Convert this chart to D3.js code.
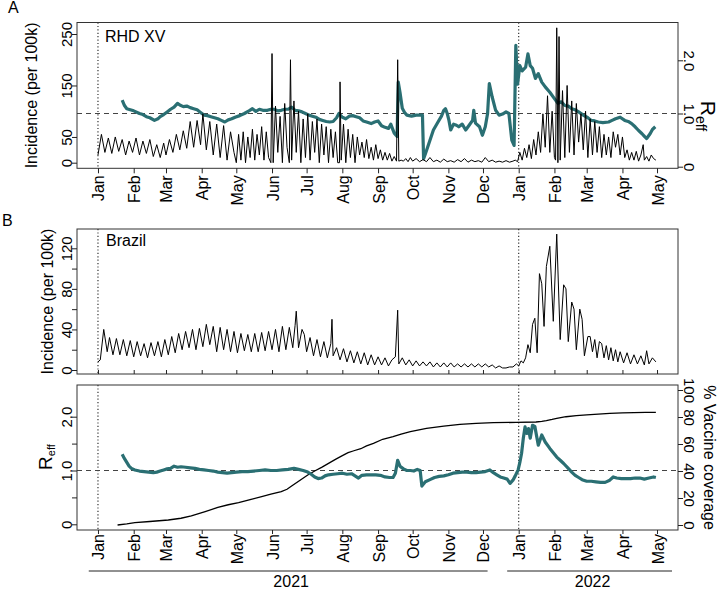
<!DOCTYPE html>
<html>
<head>
<meta charset="utf-8">
<script src="https://cdn.jsdelivr.net/npm/d3@7"></script>
<style>
  body { margin: 0; background: #fff; }
</style>
</head>
<body>
<div id="chart"></div>
<script>
// all series: [days since 2021-01-01, value]
var rhdIncidence = [
  [0,15],[3,55],[6,20],[9,48],[12,18],[15,50],[18,22],[21,45],[24,15],[27,42],[30,20],
  [33,48],[36,15],[39,42],[42,18],[45,45],[48,12],[51,35],[54,10],[57,38],
  [59,15],[62,45],[65,20],[68,55],[71,25],[74,62],[77,28],[80,80],[83,30],[86,82],[89,35],
  [91,95],[94,25],[97,80],[100,15],[103,75],[106,10],[109,72],[112,5],[115,60],[118,20],
  [120,0],[122,55],[124,5],[126,60],[128,0],[130,50],[132,10],[134,65],[136,5],[138,55],[140,15],[142,70],[144,5],[146,60],[148,10],[150,0],
  [151,212],[152,0],[154,110],[156,20],[158,90],[160,0],[162,115],[164,30],[166,0],[167,200],[168,5],[170,120],[172,20],[174,100],[176,0],[178,85],[180,10],
  [182,95],[184,5],[186,80],[188,20],[190,85],[192,0],[194,75],[196,15],[198,70],[200,0],[202,65],[204,10],[206,60],[208,0],
  [209.5,0],[210,157],[211,5],[213,75],[215,0],[217,65],[219,10],[221,55],[223,0],[225,50],[227,15],[229,40],[231,10],[233,45],[235,8],[237,30],[239,5],[241,35],[243,8],
  [245,25],[247,5],[249,20],[251,5],[253,18],[255,3],[257,12],[259,3],[260,200],[261,3],[263,5],[265,3],[267,8],[269,2],[271,10],[273,3],
  [276,8],[279,2],[282,6],[285,2],[288,10],[291,2],[294,5],[297,1],[300,7],[303,2],[306,4],[309,1],[312,6],[315,2],[318,8],[321,1],
  [324,5],[327,2],[330,4],[333,1],[336,10],[339,2],[342,5],[345,1],[348,3],[351,1],[354,4],[357,1],[360,3],[362,5],[364,2],
  [366,20],[368,5],[370,28],[372,10],[374,35],[376,8],[378,45],[380,15],[382,60],[384,20],[386,95],[388,30],[390,130],[392,20],[394,100],[396,10],
  [397,5],[398,262],[399,0],[400,245],[401,5],[403,140],[405,10],[407,150],[409,20],[411,120],[413,15],[415,115],[417,40],[419,95],[421,25],[423,100],
  [425,10],[427,85],[429,15],[431,80],[433,20],[435,70],[437,10],[439,55],[441,15],[443,50],[445,10],[447,60],[449,30],[451,55],[453,15],
  [455,50],[457,10],[459,25],[461,5],[463,20],[465,5],[467,22],[469,3],[471,15],[473,35],[474,5],[476,12],[478,3],[480,15],[482,8],[484,5]
];

var rhdReff = [
  [21,1.25],[23,1.15],[25,1.09],[28,1.07],[31,1.05],[36,1.0],[39,0.98],[42,0.94],[45,0.92],[49,0.87],[52,0.9],[54,0.94],
  [57,0.98],[60,1.03],[63,1.08],[66,1.12],[69,1.19],[71,1.16],[74,1.13],[77,1.14],[80,1.11],[83,1.09],[86,1.07],[89,1.02],
  [92,0.97],[95,0.96],[98,0.94],[101,0.92],[104,0.9],[107,0.87],[110,0.84],[113,0.88],[116,0.9],[119,0.93],[123,0.96],
  [127,1.0],[131,1.05],[134,1.09],[137,1.04],[140,1.08],[143,1.06],[147,1.06],[150,1.08],[153,1.08],[156,1.05],[159,1.06],
  [162,1.08],[165,1.08],[168,1.12],[171,1.06],[174,1.05],[177,1.03],[180,1.0],[183,0.97],[186,0.95],[189,0.93],[192,0.89],
  [195,0.87],[198,0.85],[201,0.84],[204,0.85],[207,0.92],[209,1.0],[212,0.93],[215,0.9],[218,0.95],[221,0.96],[224,0.94],
  [227,0.92],[230,0.86],[233,0.84],[237,0.81],[240,0.84],[243,0.86],[246,0.77],[249,0.74],[252,0.72],[254,0.8],[257,0.63],
  [259.5,0.57],[260.5,1.59],[262,1.4],[264,1.1],[266,1.02],[268,0.97],[272,0.95],[276,0.97],[281.5,0.97],[282.5,0.15],
  [284,0.24],[287,0.43],[291,0.69],[295,0.84],[298,0.95],[300,1.06],[301.5,1.09],[303,1.0],[304.5,0.87],[306,0.69],
  [308.5,0.8],[311,0.78],[313,0.75],[316,0.8],[319,0.69],[322,0.78],[325,0.87],[326,1.06],[327.5,0.82],[331,0.75],
  [333.5,0.59],[336,0.75],[338,1.0],[339.5,1.56],[342,1.31],[345,1.06],[348,0.97],[351,0.99],[354,1.03],[356.5,1.0],
  [359,0.5],[361,0.4],[362.5,2.28],[364,1.55],[366,1.9],[368,1.8],[371,1.87],[373,2.12],[375,1.9],[377,1.85],[379.5,1.66],
  [382,1.75],[385,1.59],[388,1.5],[392,1.4],[396,1.28],[399,1.19],[402,1.22],[405,1.15],[408,1.14],[411,1.09],[414,1.07],
  [417,1.03],[421,0.97],[425,0.92],[428,0.87],[431,0.86],[434,0.84],[438,0.83],[443,0.84],[446,0.87],[449,0.9],[453,0.93],
  [457,0.87],[460,0.85],[463,0.81],[466,0.75],[469,0.68],[472,0.62],[474.5,0.56],[476,0.53],[479,0.62],[481,0.7],[483.5,0.75]
];

var brazilIncidence = [
  [0,8],[2,10],[5,40],[8,18],[10,32],[13,15],[16,31],[19,15],[22,30],[25,14],[28,29],
  [31,13],[34,28],[37,14],[40,26],[43,12],[46,27],[49,14],[52,28],[55,13],[58,30],
  [61,15],[64,33],[67,17],[70,36],[73,20],[76,38],[79,22],[82,40],[85,20],[88,41],
  [91,23],[94,45],[97,25],[100,43],[103,18],[106,42],[109,20],[112,40],[115,18],[118,38],
  [121,17],[124,36],[127,19],[130,35],[133,18],[136,36],[139,18],[142,37],[145,19],[148,38],
  [151,20],[154,40],[157,18],[160,43],[163,20],[166,42],[169,22],[171,44],[172,58],[174,22],[177,40],[179,35],
  [181,18],[184,32],[187,14],[190,30],[193,13],[196,28],[199,12],[202,26],[203,50],[204,14],[207,22],[210,10],
  [213,21],[216,8],[219,19],[222,7],[225,18],[228,6],[231,17],[234,5],[237,15],[240,5],
  [243,13],[246,5],[249,12],[252,4],[255,10],[258,13],[260,59],[261,6],[264,12],[267,5],[270,10],[273,4],
  [276,9],[279,4],[282,8],[285,4],[288,8],[291,3],[294,7],[297,3],[300,7],[303,3],
  [306,7],[309,3],[312,6],[315,3],[318,6],[321,3],[324,6],[327,3],[330,6],[333,3],
  [336,6],[339,3],[342,5],[345,2],[348,4],[351,2],[354,2],[357,3],[360,3],[363,6],
  [365,4],[367,9],[369,7],[371,12],[373,25],[375,17],[377,45],[379,51],[381,17],[383,95],[385,85],[387,43],
  [389,102],[392,122],[395,48],[398,134],[401,30],[404,84],[406,80],[408,28],[411,67],[413,60],[415,20],[418,60],
  [420,50],[422,14],[425,33],[427,33],[429,18],[431,30],[433,12],[435,28],[437,26],[439,12],[441,24],[443,10],
  [445,22],[447,9],[449,20],[451,8],[453,18],[456,7],[459,17],[462,6],[465,15],[468,6],[471,14],[474,5],
  [476,19],[478,6],[481,12],[484,8]
];

var brazilReff = [
  [21,1.3],[23,1.22],[25,1.15],[27,1.08],[29,1.04],[32,1.01],[36,0.99],[40,0.98],[44,0.97],[48,0.96],[51,0.97],
  [54,0.99],[57,1.01],[60,1.03],[63,1.04],[66,1.08],[69,1.06],[72,1.07],[76,1.06],[80,1.05],[84,1.04],[88,1.02],
  [92,1.01],[96,1.0],[100,0.99],[104,0.97],[108,0.96],[112,0.95],[116,0.96],[120,0.97],[125,0.98],[130,0.98],
  [135,0.99],[140,1.0],[145,1.01],[150,1.0],[155,1.0],[160,1.01],[165,1.02],[170,1.04],[174,1.02],[178,1.0],
  [182,0.97],[185,0.93],[188,0.88],[191,0.85],[194,0.86],[197,0.9],[200,0.92],[204,0.93],[208,0.94],[212,0.95],
  [216,0.93],[220,0.94],[223,0.9],[226,0.86],[229,0.91],[233,0.92],[237,0.92],[241,0.92],[245,0.91],[249,0.88],
  [253,0.87],[256,0.87],[258,0.95],[260,1.19],[262,1.08],[265,1.03],[268,1.0],[271,1.0],[274,0.99],[277,1.02],
  [279.5,1.0],[281,0.71],[284,0.79],[288,0.83],[292,0.87],[296,0.89],[300,0.9],[304,0.92],[308,0.95],[312,0.96],
  [316,0.97],[320,0.97],[324,0.96],[328,0.96],[332,0.97],[336,0.98],[340,1.01],[343,0.96],[346,0.92],[349,0.88],
  [352,0.86],[355,0.84],[357.5,0.76],[360,0.82],[362,0.9],[364.5,1.01],[366,1.15],[367.5,1.32],[369,1.6],[370.5,1.81],
  [372,1.69],[373.5,1.78],[375,1.6],[377,1.84],[379,1.82],[382,1.47],[385,1.66],[388,1.53],[392,1.41],[395,1.33],
  [398,1.25],[401,1.19],[404,1.13],[408,1.04],[411,0.97],[414,0.91],[417,0.87],[420,0.83],[424,0.8],[428,0.8],
  [432,0.79],[436,0.78],[440,0.78],[444,0.82],[447,0.88],[450,0.86],[454,0.85],[458,0.85],[462,0.85],[466,0.86],
  [470,0.86],[474,0.84],[478,0.86],[482,0.88],[484,0.87]
];

// % vaccine coverage, Brazil
var vaccineCoverage = [
  [17,0],[25,0.8],[32,1.7],[45,2.6],[61,3.7],[72,5],[81,6.7],[93,9.9],[104,13],[113,15],[122,16.5],[132,18.8],
  [142,21],[150,22.8],[159,24.7],[164,26.5],[168,28.9],[175,33],[182,37],[188,40],[194,42.7],[200,45.6],[206,48.6],
  [212,51.4],[217,53.6],[222,55],[228,56.5],[233,58.6],[239,60.5],[247,63.5],[256,65.4],[263,67.3],[271,69.1],
  [285,71.6],[300,73.3],[314,74.6],[328,75.3],[343,75.8],[363,76],[380,76.3],[385,76.8],[389,77.3],[394,78.2],
  [398,79],[406,80.2],[415,81],[424,81.5],[434,82.2],[444,82.7],[455,83],[465,83.2],[475,83.4],[484,83.5]
];

var incATicks = [0, 50, 150, 250];
var reffATicks = [0, 1, 2];
var incBTicks = [0, 20, 40, 60, 80, 100, 120];
var incBLabels = [0, 40, 80, 120];
var reffBTicks = [0, 0.5, 1, 1.5, 2];
var reffBLabels = [0, 1, 2];
var vacTicks = [0, 20, 40, 60, 80, 100];
var years = ["2021", "2022"];

var FONT = "'Liberation Sans', Arial, Helvetica, sans-serif";
var TEAL = "#2a6f73";

var svg = d3.select("#chart").append("svg")
    .attr("width", 720).attr("height", 589)
    .style("font-family", FONT);

var day0 = Date.UTC(2021, 0, 1);
function toDate(d) { return new Date(day0 + d * 864e5); }

var left = 77, right = 678;
var x = d3.scaleUtc()
    .domain([toDate(-18.2), toDate(503.2)])
    .range([left, right]);
var months = d3.utcMonth.range(toDate(0), toDate(486));

// panel extents
var pA = {top: 22.5, bottom: 168.3};
var pB1 = {top: 229, bottom: 374};
var pB2 = {top: 385, bottom: 530};

var yIncA = d3.scaleLinear().domain([0, 250]).range([162.7, 34]);
var yReffA = d3.scaleLinear().domain([0, 2]).range([166.7, 60.3]);
var yIncB = d3.scaleLinear().domain([0, 120]).range([370, 248.3]);
var yReffB = d3.scaleLinear().domain([0, 2]).range([524.3, 416.7]);
var yVac = d3.scaleLinear().domain([0, 100]).range([525, 390]);

function lineFor(y) {
  return d3.line().x(function(d) { return x(toDate(d[0])); }).y(function(d) { return y(d[1]); });
}

function leftAxis(scale, ticks, labels, len) {
  var g = svg.append("g").attr("transform", "translate(" + left + ",0)")
    .call(d3.axisLeft(scale).tickValues(ticks).tickSize(len)
      .tickFormat(function(d) { return labels.indexOf(d) >= 0 ? (d === 0 ? "0" : (scale.domain()[1] <= 2 ? d3.format(".1f")(d) : d)) : ""; }));
  g.select(".domain").remove();
  g.attr("font-family", FONT).attr("font-size", 15);
  g.selectAll(".tick line").attr("stroke", "#222");
  g.selectAll(".tick text").attr("x", null).attr("dy", null).attr("fill", "#000")
    .attr("text-anchor", "middle")
    .attr("transform", "translate(-5.5,0) rotate(-90)");
}

function rightAxis(scale, ticks, fmt) {
  var g = svg.append("g").attr("transform", "translate(" + right + ",0)")
    .call(d3.axisRight(scale).tickValues(ticks).tickSize(5).tickFormat(fmt));
  g.select(".domain").remove();
  g.attr("font-family", FONT).attr("font-size", 15);
  g.selectAll(".tick line").attr("stroke", "#222");
  g.selectAll(".tick text").attr("x", null).attr("dy", null).attr("fill", "#000")
    .attr("text-anchor", "middle")
    .attr("transform", "translate(5.5,0) rotate(90)");
}

function bottomAxis(yPos, len, withLabels, gap) {
  var g = svg.append("g").attr("transform", "translate(0," + yPos + ")")
    .call(d3.axisBottom(x).tickValues(months).tickSize(len)
      .tickFormat(withLabels ? d3.utcFormat("%b") : ""));
  g.select(".domain").remove();
  g.attr("font-family", FONT).attr("font-size", 16);
  g.selectAll(".tick line").attr("stroke", "#222");
  g.selectAll(".tick text").attr("y", null).attr("dy", null).attr("fill", "#000")
    .attr("text-anchor", "end")
    .attr("transform", "translate(6," + gap + ") rotate(-90)");
}

function box(p) {
  svg.append("rect").attr("x", left).attr("y", p.top)
    .attr("width", right - left).attr("height", p.bottom - p.top)
    .attr("fill", "none").attr("stroke", "#333").attr("stroke-width", 1);
}

function newYearLines(p) {
  [0, 365].forEach(function(d) {
    svg.append("line")
      .attr("x1", x(toDate(d))).attr("x2", x(toDate(d)))
      .attr("y1", p.top).attr("y2", p.bottom)
      .attr("stroke", "#222").attr("stroke-width", 1.1)
      .attr("stroke-dasharray", "1.2,2.2");
  });
}

function dashedOne(y) {
  svg.append("line").attr("x1", left).attr("x2", right)
    .attr("y1", y(1)).attr("y2", y(1))
    .attr("stroke", "#444").attr("stroke-width", 1)
    .attr("stroke-dasharray", "5,4");
}

// ---------- Panel A ----------
newYearLines(pA);
dashedOne(yReffA);
svg.append("path").datum(rhdReff)
  .attr("fill", "none").attr("stroke", TEAL).attr("stroke-width", 3.2)
  .attr("stroke-linejoin", "round").attr("d", lineFor(yReffA));
svg.append("path").datum(rhdIncidence)
  .attr("fill", "none").attr("stroke", "#000").attr("stroke-width", 1)
  .attr("d", lineFor(yIncA));
box(pA);
leftAxis(yIncA, incATicks, incATicks, 5);
rightAxis(yReffA, reffATicks, function(d) { return d === 0 ? "0" : d3.format(".1f")(d); });
bottomAxis(pA.bottom, 5, true, 7);

svg.append("text").attr("x", 105).attr("y", 41.5).attr("font-size", 16).text("RHD XV");
svg.append("text").attr("x", 8).attr("y", 13).attr("font-size", 16).text("A");
svg.append("text").attr("transform", "translate(37," + ((pA.top + pA.bottom) / 2) + ") rotate(-90)")
  .attr("text-anchor", "middle").attr("font-size", 16).text("Incidence (per 100k)");
var rA = svg.append("text").attr("transform", "translate(700.5,116) rotate(90)")
  .attr("text-anchor", "middle");
rA.append("tspan").attr("font-size", 21).text("R");
rA.append("tspan").attr("font-size", 14).attr("dy", 5).text("eff");

// ---------- Panel B top ----------
newYearLines(pB1);
svg.append("path").datum(brazilIncidence)
  .attr("fill", "none").attr("stroke", "#000").attr("stroke-width", 1)
  .attr("d", lineFor(yIncB));
box(pB1);
leftAxis(yIncB, incBTicks, incBLabels, 5);
bottomAxis(pB1.bottom, -4, false, 0);
svg.append("text").attr("x", 106).attr("y", 245.5).attr("font-size", 16).text("Brazil");
svg.append("text").attr("x", 2).attr("y", 226).attr("font-size", 16).text("B");
svg.append("text").attr("transform", "translate(53," + ((pB1.top + pB1.bottom) / 2) + ") rotate(-90)")
  .attr("text-anchor", "middle").attr("font-size", 16).text("Incidence (per 100k)");

// ---------- Panel B bottom ----------
newYearLines(pB2);
dashedOne(yReffB);
svg.append("path").datum(vaccineCoverage)
  .attr("fill", "none").attr("stroke", "#000").attr("stroke-width", 1.3)
  .attr("d", lineFor(yVac));
svg.append("path").datum(brazilReff)
  .attr("fill", "none").attr("stroke", TEAL).attr("stroke-width", 3.2)
  .attr("stroke-linejoin", "round").attr("d", lineFor(yReffB));
box(pB2);
leftAxis(yReffB, reffBTicks, reffBLabels, 5);
rightAxis(yVac, vacTicks, function(d) { return d; });
bottomAxis(pB2.bottom, 4, true, 4);

var rB = svg.append("text").attr("transform", "translate(51.5,457) rotate(-90)")
  .attr("text-anchor", "middle");
rB.append("tspan").attr("font-size", 19).text("R");
rB.append("tspan").attr("font-size", 11).attr("dy", 3).text("eff");
svg.append("text").attr("transform", "translate(704," + ((pB2.top + pB2.bottom) / 2) + ") rotate(90)")
  .attr("text-anchor", "middle").attr("font-size", 16).text("% Vaccine coverage");

// year bars
var yearSpans = [[-8, 338], [355, 498]];
yearSpans.forEach(function(s, i) {
  var x1 = x(toDate(s[0])), x2 = x(toDate(s[1]));
  svg.append("line").attr("x1", x1).attr("x2", x2).attr("y1", 571).attr("y2", 571)
    .attr("stroke", "#222").attr("stroke-width", 1);
  svg.append("text").attr("x", (x1 + x2) / 2 + 3).attr("y", 586.5)
    .attr("text-anchor", "middle").attr("font-size", 16).text(years[i]);
});
</script>
</body>
</html>
